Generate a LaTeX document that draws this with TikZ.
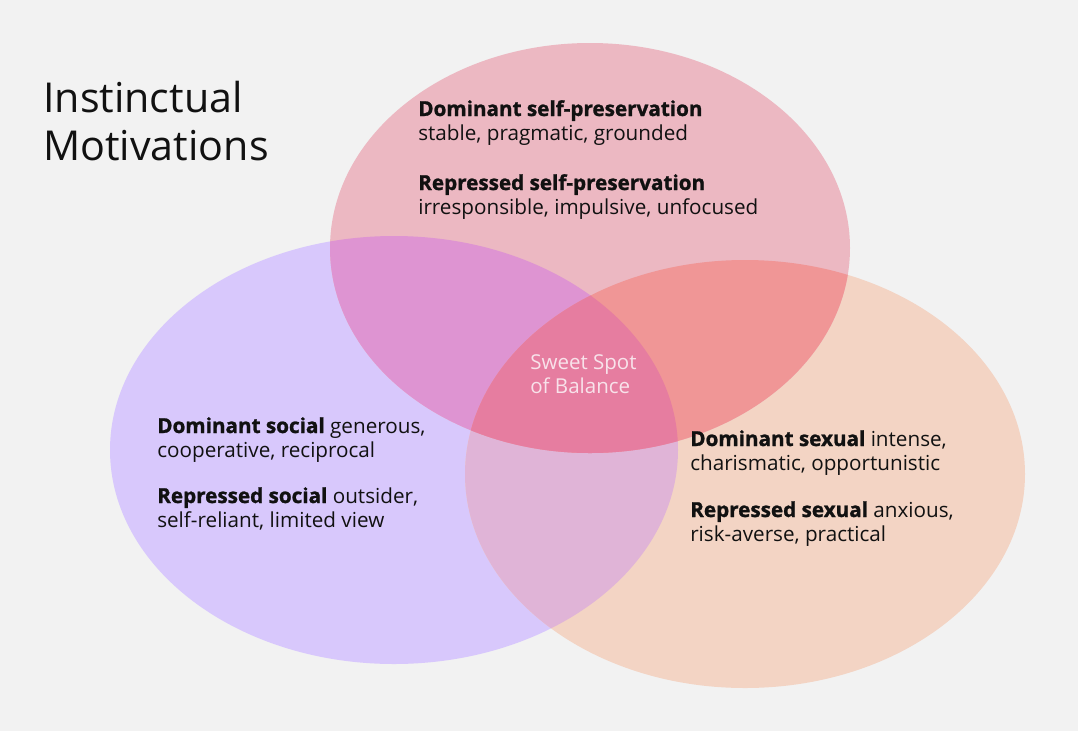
\documentclass[tikz,border=0pt]{standalone}
\usepackage{fontspec}
\setmainfont{Open Sans}[BoldFeatures={FakeBold=1.2}]
\usepackage{xcolor}

\definecolor{paper}{HTML}{F2F2F2}
\definecolor{socialc}{HTML}{D8C8FC}
\definecolor{selfc}{HTML}{ECB8C2}
\definecolor{sexualc}{HTML}{F3D4C4}
\definecolor{selfsocialc}{HTML}{DE94D2}
\definecolor{selfsexualc}{HTML}{F09696}
\definecolor{socialsexualc}{HTML}{E0B4D7}
\definecolor{balancec}{HTML}{E67DA0}
\definecolor{inkc}{HTML}{111111}
\definecolor{balancetext}{HTML}{F8E2EA}

\tikzset{
  line/.style={anchor=base west, inner sep=0pt, text=inkc, font=\fontsize{14.7}{17}\selectfont},
  title/.style={anchor=base west, inner sep=0pt, text=inkc, font=\fontsize{29.3}{34}\selectfont},
  sweet/.style={anchor=base west, inner sep=0pt, text=balancetext, font=\fontsize{14.6}{17}\selectfont}
}

\newcommand{\selfpath}{(590,248) ellipse [x radius=260, y radius=205]}
\newcommand{\socialpath}{(394,450) ellipse [x radius=284, y radius=214]}
\newcommand{\sexualpath}{(745,474) ellipse [x radius=280, y radius=214]}

\begin{document}
\begin{tikzpicture}[x=0.025cm, y=-0.025cm]
% Background
\fill[paper] (0,0) rectangle (1078,731);
\useasboundingbox (0,0) rectangle (1078,731);

% The three circles
\fill[socialc] \socialpath;
\fill[sexualc] \sexualpath;
\fill[selfc] \selfpath;

% Overlaps of two
\begin{scope}
  \clip \socialpath;
  \fill[socialsexualc] \sexualpath;
\end{scope}
\begin{scope}
  \clip \selfpath;
  \fill[selfsocialc] \socialpath;
\end{scope}
\begin{scope}
  \clip \selfpath;
  \fill[selfsexualc] \sexualpath;
\end{scope}

% Overlap of all three
\begin{scope}
  \clip \selfpath;
  \clip \socialpath;
  \fill[balancec] \sexualpath;
\end{scope}

% Title
\node[title] (title1) at (43,112) {Instinctual};
\node[title] (title2) at (43,160) {Motivations};

% Self-preservation
\node[line] (selfdom) at (418,116) {\textbf{Dominant self-preservation}};
\node[line] (selfdomtxt) at (418,140) {stable, pragmatic, grounded};
\node[line] (selfrep) at (418,190) {\textbf{Repressed self-preservation}};
\node[line] (selfreptxt) at (418,214) {irresponsible, impulsive, unfocused};

% Social
\node[line] (socdom) at (157,433) {\textbf{Dominant social} generous,};
\node[line] (socdomtxt) at (157,457) {cooperative, reciprocal};
\node[line] (socrep) at (157,503) {\textbf{Repressed social} outsider,};
\node[line] (socreptxt) at (157,527) {self-reliant, limited view};

% Sexual
\node[line] (sexdom) at (690,446) {\textbf{Dominant sexual} intense,};
\node[line] (sexdomtxt) at (690,470) {charismatic, opportunistic};
\node[line] (sexrep) at (690,517) {\textbf{Repressed sexual} anxious,};
\node[line] (sexreptxt) at (690,541) {risk-averse, practical};

% Centre
\node[sweet] (sweet1) at (530,369) {Sweet Spot};
\node[sweet] (sweet2) at (530,393) {of Balance};
\end{tikzpicture}
\end{document}
